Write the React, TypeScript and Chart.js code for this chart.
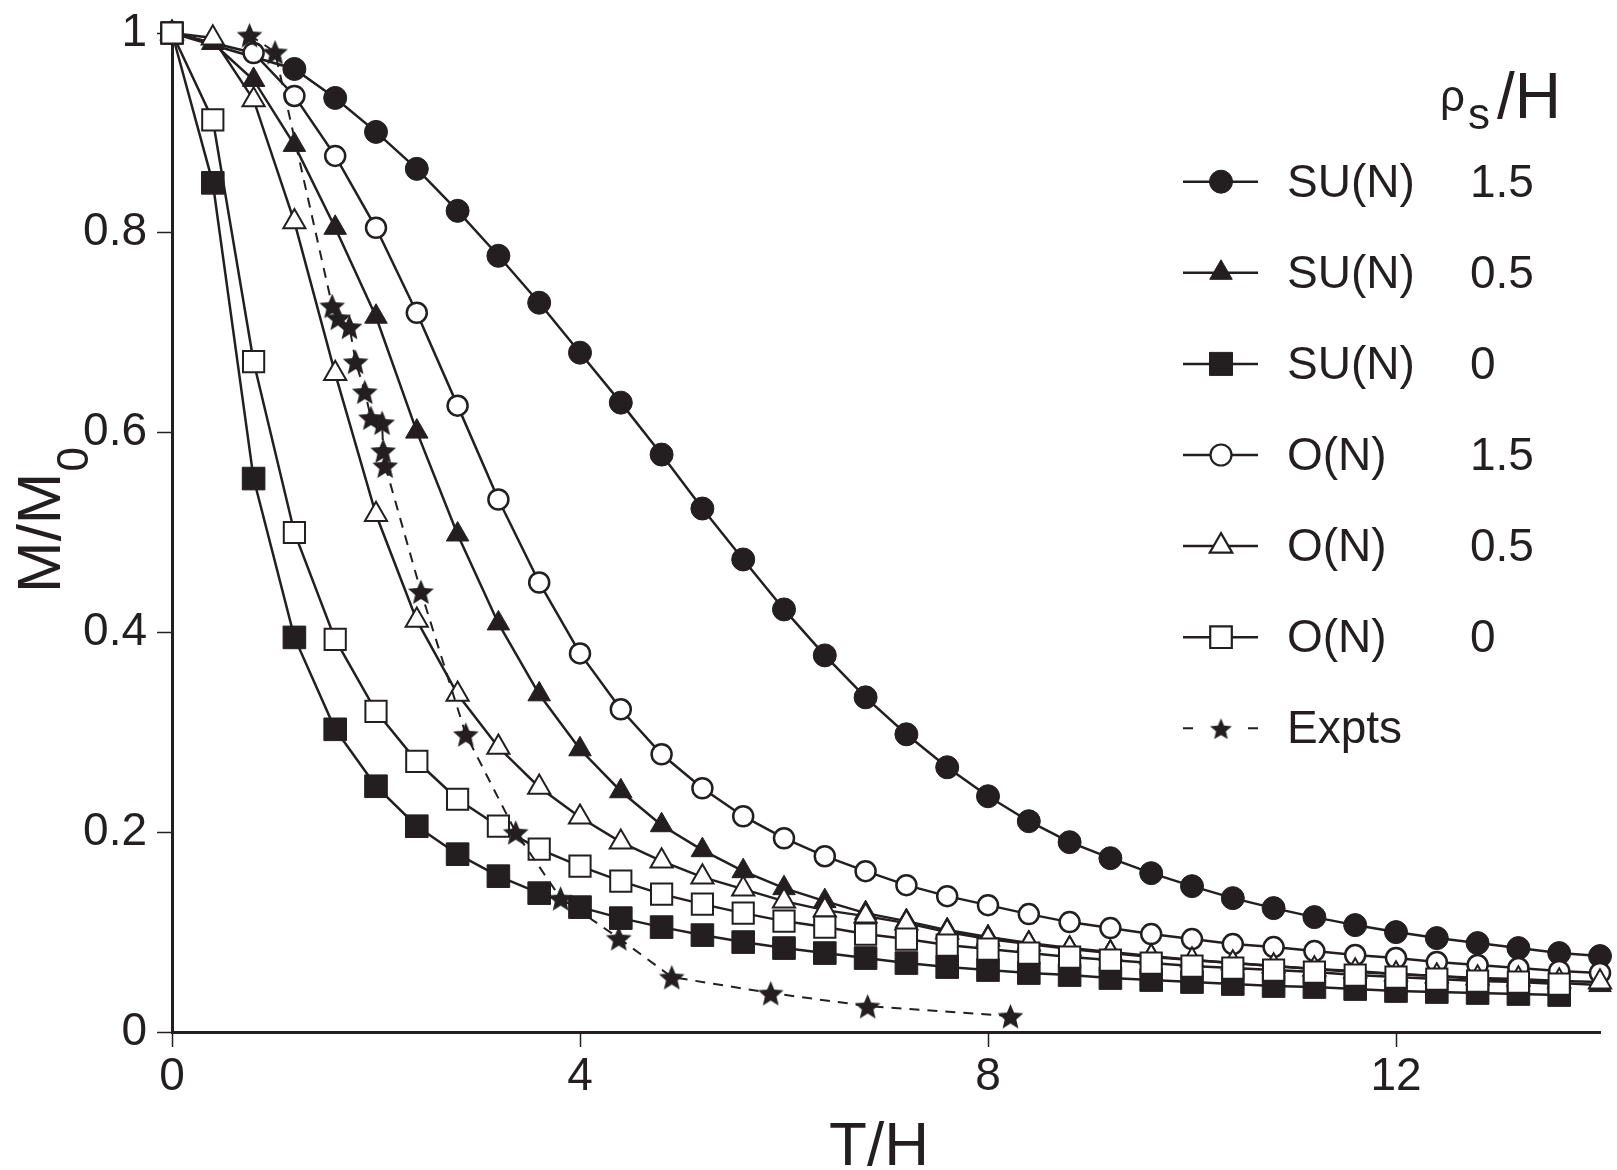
import React, { useEffect, useRef } from 'react';
import { Chart, registerables } from 'chart.js';

Chart.register(...registerables);

const INK = '#231f20';
const FONT = "'Liberation Sans', Arial, Helvetica, sans-serif";

// T/H sample points of the theory curves
const X_GRID = [
  0, 0.4, 0.8, 1.2, 1.6, 2.0, 2.4, 2.8, 3.2, 3.6, 4.0, 4.4, 4.8, 5.2, 5.6, 6.0, 6.4, 6.8,
  7.2, 7.6, 8.0, 8.4, 8.8, 9.2, 9.6, 10.0, 10.4, 10.8, 11.2, 11.6, 12.0, 12.4, 12.8, 13.2, 13.6, 14.0,
];

// M/M0 values (null = no marker at that T/H)
const SU_15 = [
  1.0, null, null, 0.964, 0.935, 0.901, 0.864, 0.822, 0.777, 0.730, 0.680, 0.630, 0.578, 0.524,
  0.473, 0.423, 0.377, 0.335, 0.298, 0.265, 0.236, 0.211, 0.190, 0.174, 0.159, 0.146, 0.134,
  0.124, 0.115, 0.107, 0.100, 0.094, 0.089, 0.084, 0.079, 0.076,
];
const SU_05 = [
  1.0, 0.990, 0.953, 0.888, 0.805, 0.716, 0.601, 0.498, 0.409, 0.338, 0.283, 0.241, 0.207, 0.182,
  0.161, 0.144, 0.131, 0.119, 0.111, 0.102, 0.095, 0.089, 0.084, 0.080, 0.076, 0.072, 0.069,
  0.066, 0.063, 0.060, 0.058, 0.056, 0.053, 0.051, 0.049, 0.047,
];
const SU_0 = [
  1.0, 0.850, 0.554, 0.395, 0.303, 0.246, 0.206, 0.178, 0.156, 0.139, 0.125, 0.114, 0.105, 0.097,
  0.090, 0.084, 0.079, 0.074, 0.069, 0.065, 0.062, 0.059, 0.057, 0.054, 0.052, 0.050, 0.048,
  0.046, 0.045, 0.043, 0.041, 0.040, 0.039, 0.038, 0.037,
];
const O_15 = [
  1.0, null, 0.980, 0.937, 0.877, 0.805, 0.720, 0.627, 0.533, 0.450, 0.379, 0.323, 0.278, 0.244,
  0.216, 0.194, 0.176, 0.161, 0.147, 0.136, 0.127, 0.118, 0.110, 0.104, 0.098, 0.093, 0.088,
  0.085, 0.081, 0.077, 0.074, 0.070, 0.067, 0.064, 0.061, 0.059,
];
const O_05 = [
  1.0, 0.995, 0.933, 0.811, 0.659, 0.518, 0.412, 0.338, 0.285, 0.245, 0.215, 0.190, 0.171, 0.155,
  0.143, 0.131, 0.122, 0.116, 0.109, 0.100, 0.093, 0.088, 0.083, 0.079, 0.075, 0.072, 0.069,
  0.066, 0.063, 0.061, 0.058, 0.056, 0.054, 0.053, 0.051, 0.050,
];
const O_0 = [
  1.0, 0.913, 0.671, 0.500, 0.393, 0.321, 0.271, 0.233, 0.206, 0.183, 0.166, 0.151, 0.138, 0.128,
  0.119, 0.111, 0.105, 0.098, 0.093, 0.087, 0.083, 0.079, 0.075, 0.072, 0.069, 0.066, 0.064,
  0.062, 0.060, 0.057, 0.055, 0.053, 0.051, 0.050, 0.048,
];

// Experimental points
const EXP_X = [0.76, 1.01, 1.57, 1.63, 1.74, 1.80, 1.89, 1.95, 2.06, 2.07, 2.09, 2.44, 2.88, 3.37, 3.81, 4.38, 4.90, 5.87, 6.82, 8.22];
const EXP_Y = [0.998, 0.981, 0.727, 0.715, 0.706, 0.671, 0.641, 0.615, 0.610, 0.582, 0.567, 0.441, 0.298, 0.200, 0.134, 0.094, 0.055, 0.039, 0.026, 0.016];

const X_TICKS = [0, 4, 8, 12];
const Y_TICKS = [0, 0.2, 0.4, 0.6, 0.8, 1];

const LEGEND_NAMES = ['SU(N)', 'SU(N)', 'SU(N)', 'O(N)', 'O(N)', 'O(N)', 'Expts'];
const LEGEND_VALUES = ['1.5', '0.5', '0', '1.5', '0.5', '0', ''];

function toPoints(vals: (number | null)[]) {
  const pts: { x: number; y: number }[] = [];
  vals.forEach((y, i) => {
    if (y !== null && y !== undefined) pts.push({ x: X_GRID[i], y });
  });
  return pts;
}

function makeStar(r: number) {
  const c = document.createElement('canvas');
  const s = Math.ceil(r * 2 + 2);
  c.width = s;
  c.height = s;
  const g = c.getContext('2d')!;
  g.fillStyle = INK;
  g.beginPath();
  for (let k = 0; k < 10; k++) {
    const rad = k % 2 === 0 ? r : r * 0.45;
    const a = -Math.PI / 2 + (k * Math.PI) / 5;
    const px = s / 2 + rad * Math.cos(a);
    const py = s / 2 + 1.5 + rad * Math.sin(a);
    if (k === 0) g.moveTo(px, py);
    else g.lineTo(px, py);
  }
  g.closePath();
  g.fill();
  return c;
}

type Marker = 'circle' | 'triangle' | 'rect' | 'star';

function drawMarker(ctx: CanvasRenderingContext2D, kind: Marker, filled: boolean, x: number, y: number, star: HTMLCanvasElement) {
  ctx.save();
  ctx.fillStyle = filled ? INK : '#ffffff';
  ctx.strokeStyle = INK;
  ctx.lineWidth = filled ? 1 : 2.2;
  ctx.beginPath();
  if (kind === 'circle') {
    ctx.arc(x, y, filled ? 11.5 : 10.5, 0, Math.PI * 2);
  } else if (kind === 'triangle') {
    const r = 13;
    ctx.moveTo(x, y - r);
    ctx.lineTo(x + r * Math.cos(Math.PI / 6), y + r / 2);
    ctx.lineTo(x - r * Math.cos(Math.PI / 6), y + r / 2);
    ctx.closePath();
  } else if (kind === 'rect') {
    const h = filled ? 11.5 : 10.8;
    ctx.rect(x - h, y - h, 2 * h, 2 * h);
  } else {
    ctx.drawImage(star, x - star.width / 2, y - star.height / 2);
    ctx.restore();
    return;
  }
  ctx.fill();
  ctx.stroke();
  ctx.restore();
}

export default function App() {
  const ref = useRef<HTMLCanvasElement | null>(null);

  useEffect(() => {
    if (!ref.current) return;
    const star = makeStar(13.5);
    const legendStar = makeStar(11.5);

    const lineBase = {
      borderColor: INK,
      borderWidth: 2.5,
      pointBorderColor: INK,
      fill: false,
      clip: false as const,
      tension: 0,
    };

    const legendKinds: { kind: Marker; filled: boolean }[] = [
      { kind: 'circle', filled: true },
      { kind: 'triangle', filled: true },
      { kind: 'rect', filled: true },
      { kind: 'circle', filled: false },
      { kind: 'triangle', filled: false },
      { kind: 'rect', filled: false },
      { kind: 'star', filled: true },
    ];

    const annotations = {
      id: 'annotations',
      afterDraw(chart: any) {
        const ctx: CanvasRenderingContext2D = chart.ctx;
        ctx.save();
        ctx.fillStyle = INK;
        ctx.textAlign = 'left';
        ctx.textBaseline = 'alphabetic';

        // header rho_s / H
        ctx.font = `44px ${FONT}`;
        ctx.fillText('ρ', 1440, 111);
        ctx.font = `44px ${FONT}`;
        ctx.fillText('s', 1468, 129);
        ctx.font = `64px ${FONT}`;
        ctx.fillText('/H', 1497, 118);

        // legend rows
        const rowY0 = 181.7;
        const rowStep = 91.1;
        for (let i = 0; i < LEGEND_NAMES.length; i++) {
          const cy = rowY0 + i * rowStep;
          ctx.strokeStyle = INK;
          if (i < 6) {
            ctx.lineWidth = 2.5;
            ctx.beginPath();
            ctx.moveTo(1183, cy);
            ctx.lineTo(1258, cy);
            ctx.stroke();
          } else {
            ctx.lineWidth = 2;
            ctx.beginPath();
            ctx.moveTo(1183, cy);
            ctx.lineTo(1193, cy);
            ctx.moveTo(1248, cy);
            ctx.lineTo(1258, cy);
            ctx.stroke();
          }
          drawMarker(ctx, legendKinds[i].kind, legendKinds[i].filled, 1221, cy, legendStar);
          ctx.fillStyle = INK;
          ctx.font = `46px ${FONT}`;
          ctx.fillText(LEGEND_NAMES[i], 1287, cy + 15);
          if (LEGEND_VALUES[i]) ctx.fillText(LEGEND_VALUES[i], 1470, cy + 15);
        }

        // x title
        ctx.font = `62px ${FONT}`;
        ctx.textAlign = 'center';
        ctx.fillText('T/H', 879, 1165);

        // y title, rotated
        ctx.save();
        ctx.translate(60, 593);
        ctx.rotate(-Math.PI / 2);
        ctx.textAlign = 'left';
        ctx.font = `62px ${FONT}`;
        ctx.fillText('M/M', 0, 0);
        const w = ctx.measureText('M/M').width;
        ctx.font = `44px ${FONT}`;
        ctx.fillText('0', w + 1, 28);
        ctx.restore();

        ctx.restore();
      },
    };

    const chart = new Chart(ref.current, {
      type: 'line',
      data: {
        datasets: [
          {
            ...lineBase,
            label: 'Expts',
            data: EXP_X.map((x, i) => ({ x, y: EXP_Y[i] })),
            borderWidth: 2,
            borderDash: [10, 8],
            pointStyle: star,
            pointRadius: 13,
            order: 0,
          },
          {
            ...lineBase,
            label: 'O(N) 0',
            data: toPoints(O_0),
            pointStyle: 'rect',
            pointRadius: 15,
            pointBackgroundColor: '#ffffff',
            pointBorderWidth: 2,
            order: 1,
          },
          {
            ...lineBase,
            label: 'SU(N) 0',
            data: toPoints(SU_0),
            pointStyle: 'rect',
            pointRadius: 16,
            pointBackgroundColor: INK,
            pointBorderWidth: 1,
            order: 2,
          },
          {
            ...lineBase,
            label: 'O(N) 0.5',
            data: toPoints(O_05),
            pointStyle: 'triangle',
            pointRadius: 12.8,
            pointBackgroundColor: '#ffffff',
            pointBorderWidth: 2,
            order: 3,
          },
          {
            ...lineBase,
            label: 'SU(N) 0.5',
            data: toPoints(SU_05),
            pointStyle: 'triangle',
            pointRadius: 13,
            pointBackgroundColor: INK,
            pointBorderWidth: 1,
            order: 4,
          },
          {
            ...lineBase,
            label: 'O(N) 1.5',
            data: toPoints(O_15),
            pointStyle: 'circle',
            pointRadius: 10,
            pointBackgroundColor: '#ffffff',
            pointBorderWidth: 2.5,
            order: 5,
          },
          {
            ...lineBase,
            label: 'SU(N) 1.5',
            data: toPoints(SU_15),
            pointStyle: 'circle',
            pointRadius: 11.5,
            pointBackgroundColor: INK,
            pointBorderWidth: 1,
            order: 6,
          },
        ] as any,
      },
      options: {
        animation: false,
        responsive: false,
        events: [],
        layout: { padding: { left: 0, right: 12, top: 33, bottom: 0 } },
        plugins: {
          legend: { display: false },
          tooltip: { enabled: false },
        },
        scales: {
          x: {
            type: 'linear',
            min: 0,
            max: 14,
            afterFit: (s: any) => {
              s.height = 138;
            },
            afterBuildTicks: (s: any) => {
              s.ticks = X_TICKS.map((v) => ({ value: v }));
            },
            border: { display: true, color: INK, width: 3 },
            grid: {
              drawOnChartArea: false,
              drawTicks: true,
              tickLength: 15,
              tickWidth: 1.5,
              tickColor: INK,
              color: INK,
            },
            ticks: {
              color: INK,
              font: { family: FONT, size: 46 },
              padding: 3,
              autoSkip: false,
              maxRotation: 0,
              callback: (v: any) => String(v),
            },
          },
          y: {
            type: 'linear',
            min: 0,
            max: 1,
            afterFit: (s: any) => {
              s.width = 172;
            },
            afterBuildTicks: (s: any) => {
              s.ticks = Y_TICKS.map((v) => ({ value: v }));
            },
            border: { display: true, color: INK, width: 3 },
            grid: {
              drawOnChartArea: false,
              drawTicks: true,
              tickLength: 15,
              tickWidth: 1.5,
              tickColor: INK,
              color: INK,
            },
            ticks: {
              color: INK,
              font: { family: FONT, size: 46, lineHeight: 0.8 },
              padding: 10,
              autoSkip: false,
              callback: (v: any) => String(v),
            },
          },
        },
      },
      plugins: [annotations],
    });

    return () => chart.destroy();
  }, []);

  return (
    <div>
      <canvas
        ref={ref}
        width={1617}
        height={1170}
        style={{ position: 'fixed', left: 0, top: 0, width: 1617, height: 1170, background: '#ffffff' }}
      />
    </div>
  );
}
